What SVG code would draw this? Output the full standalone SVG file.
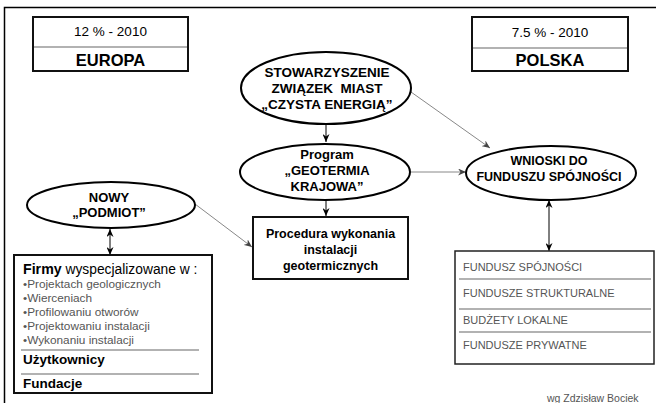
<svg xmlns="http://www.w3.org/2000/svg" width="656" height="403" viewBox="0 0 656 403">
<defs>
<style>
.t{font-family:"Liberation Sans",Arial,sans-serif;fill:#000}
.b{font-weight:bold}
.box{fill:#fff;stroke:#111;stroke-width:2}
.el{fill:#fff;stroke:#000;stroke-width:2}
.sep{stroke:#999;stroke-width:1.5}
.g{fill:#555}
.ln{stroke:#000;stroke-width:1;fill:none}
.lg{stroke:#888;stroke-width:1;fill:none}
</style>
<marker id="ah" viewBox="0 0 8 7" refX="8" refY="3.5" markerWidth="8" markerHeight="7" markerUnits="userSpaceOnUse" orient="auto-start-reverse">
<path d="M0,0 L8,3.5 L0,7 L2.5,3.5 z" fill="#000"/>
</marker>
<marker id="ahg" viewBox="0 0 8 7" refX="8" refY="3.5" markerWidth="8" markerHeight="7" markerUnits="userSpaceOnUse" orient="auto">
<path d="M0,0 L8,3.5 L0,7 L2.5,3.5 z" fill="#444"/>
</marker>
</defs>
<rect width="656" height="403" fill="#fff"/>
<g id="frame">
<path d="M4.5,403 V7.5 H656" fill="none" stroke="#000" stroke-width="1.5"/>
</g>
<g id="europa">
<rect class="box" x="33" y="17" width="155" height="54"/>
<line class="sep" x1="34" y1="47" x2="187" y2="47"/>
<text class="t" x="110.5" y="36" font-size="13.5" text-anchor="middle">12 % - 2010</text>
<text class="t b" x="110.5" y="66" font-size="16.5" text-anchor="middle">EUROPA</text>
</g>
<g id="polska">
<rect class="box" x="472" y="17" width="156" height="54"/>
<line class="sep" x1="473" y1="48" x2="627" y2="48"/>
<text class="t" x="550" y="36.5" font-size="13.5" text-anchor="middle">7.5 % - 2010</text>
<text class="t b" x="550" y="66" font-size="16.5" text-anchor="middle">POLSKA</text>
</g>
<g id="connectors">
<line class="ln" x1="326" y1="124" x2="326" y2="142" marker-end="url(#ah)"/>
<line class="ln" x1="326" y1="200" x2="326" y2="216" marker-end="url(#ah)"/>
<line class="lg" x1="411" y1="172" x2="466" y2="172" marker-end="url(#ahg)"/>
<line class="lg" x1="411" y1="92" x2="490" y2="148" marker-end="url(#ahg)"/>
<line class="lg" x1="195" y1="204" x2="252" y2="247" marker-end="url(#ahg)"/>
<line class="ln" x1="110" y1="229" x2="110" y2="255" marker-start="url(#ah)" marker-end="url(#ah)"/>
<line class="ln" x1="549" y1="200" x2="549" y2="251" marker-start="url(#ah)" marker-end="url(#ah)"/>
</g>
<g id="stowarzyszenie">
<ellipse class="el" cx="326" cy="88" rx="85" ry="36"/>
<text class="t b" x="327" y="77" font-size="13.5" text-anchor="middle">STOWARZYSZENIE</text>
<text class="t b" x="327" y="93" font-size="13.5" text-anchor="middle" xml:space="preserve">ZWIĄZEK  MIAST</text>
<text class="t b" x="327" y="109" font-size="13.5" text-anchor="middle">„CZYSTA ENERGIĄ”</text>
</g>
<g id="program">
<ellipse class="el" cx="325" cy="172" rx="85" ry="28"/>
<text class="t b" x="327" y="158.5" font-size="13" text-anchor="middle">Program</text>
<text class="t b" x="327" y="174.5" font-size="13" text-anchor="middle">„GEOTERMIA</text>
<text class="t b" x="327" y="190.5" font-size="13" text-anchor="middle">KRAJOWA”</text>
</g>
<g id="procedura">
<rect class="box" x="253" y="217" width="155" height="62"/>
<text class="t b" x="330.5" y="238" font-size="12.5" text-anchor="middle">Procedura wykonania</text>
<text class="t b" x="330.5" y="254" font-size="12.5" text-anchor="middle">instalacji</text>
<text class="t b" x="330.5" y="270" font-size="12.5" text-anchor="middle">geotermicznych</text>
</g>
<g id="nowy">
<ellipse class="el" cx="111" cy="205" rx="84" ry="23"/>
<text class="t b" x="109" y="202" font-size="13" text-anchor="middle">NOWY</text>
<text class="t b" x="109" y="217" font-size="13" text-anchor="middle">„PODMIOT”</text>
</g>
<g id="wnioski">
<ellipse class="el" cx="551" cy="173" rx="85" ry="27"/>
<text class="t b" x="549" y="165" font-size="12.5" text-anchor="middle">WNIOSKI DO</text>
<text class="t b" x="549" y="180.5" font-size="12.5" text-anchor="middle">FUNDUSZU SPÓJNOŚCI</text>
</g>
<g id="firmy">
<rect class="box" x="14" y="255" width="198" height="138"/>
<text class="t" x="23" y="274" font-size="13.8"><tspan class="b" font-size="14.2">Firmy</tspan> wyspecjalizowane w :</text>
<text class="t g" x="23" y="287.5" font-size="11.8">•Projektach geologicznych</text>
<text class="t g" x="23" y="301.5" font-size="11.8">•Wierceniach</text>
<text class="t g" x="23" y="315.5" font-size="11.8">•Profilowaniu otworów</text>
<text class="t g" x="23" y="329.5" font-size="11.8">•Projektowaniu instalacji</text>
<text class="t g" x="23" y="343.5" font-size="11.8">•Wykonaniu instalacji</text>
<line class="sep" x1="21" y1="350" x2="199" y2="350"/>
<text class="t b" x="23" y="364" font-size="13.5">Użytkownicy</text>
<line class="sep" x1="21" y1="374" x2="199" y2="374"/>
<text class="t b" x="23" y="388" font-size="13.5">Fundacje</text>
</g>
<g id="fundusze">
<rect x="455" y="251" width="199" height="113" fill="#fff" stroke="#222" stroke-width="1.5"/>
<text class="t g" x="463" y="271" font-size="11">FUNDUSZ SPÓJNOŚCI</text>
<line class="sep" x1="459" y1="279" x2="651" y2="279"/>
<text class="t g" x="463" y="297" font-size="11">FUNDUSZE STRUKTURALNE</text>
<line class="sep" x1="459" y1="309" x2="651" y2="309"/>
<text class="t g" x="463" y="324" font-size="11">BUDŻETY LOKALNE</text>
<line class="sep" x1="459" y1="332" x2="651" y2="332"/>
<text class="t g" x="463" y="349" font-size="11">FUNDUSZE PRYWATNE</text>
</g>
<g id="credit">
<text class="t g" x="547" y="402" font-size="10.5">wg Zdzisław Bociek</text>
</g>
</svg>
